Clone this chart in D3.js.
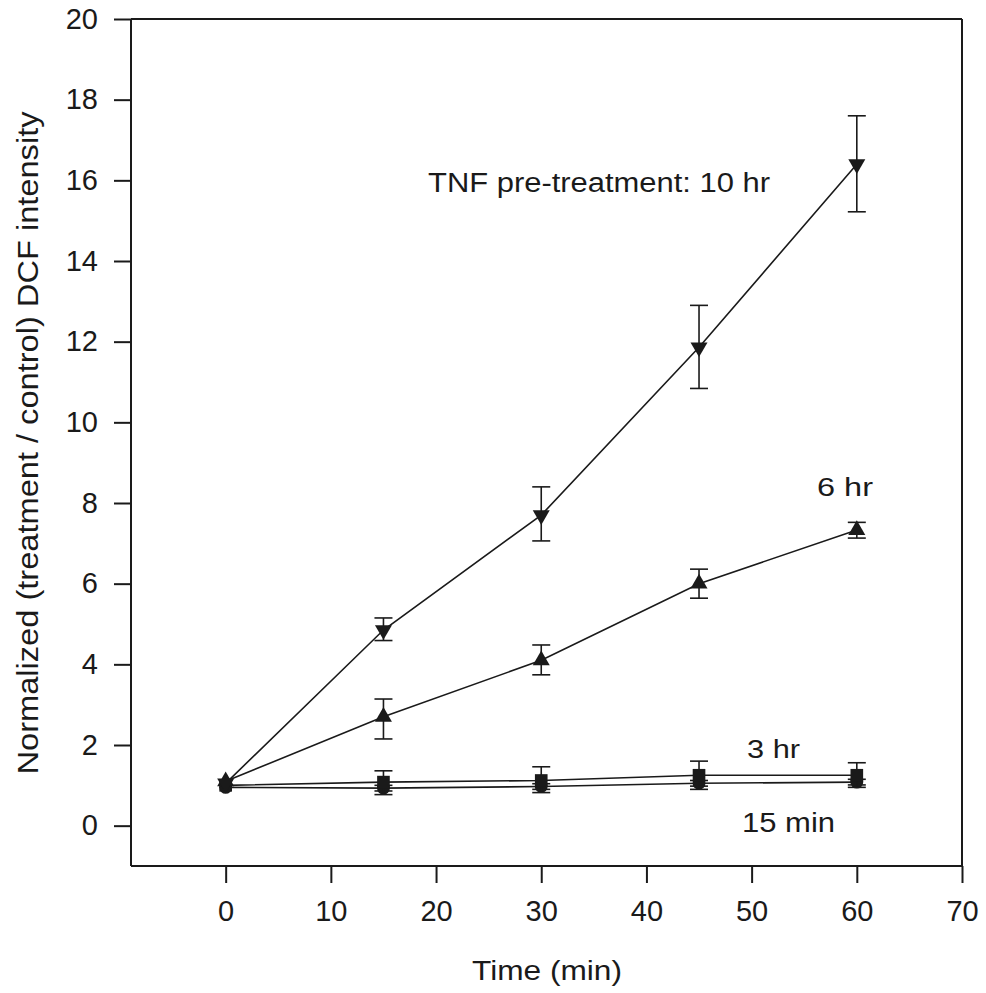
<!DOCTYPE html>
<html>
<head>
<meta charset="utf-8">
<script src="https://cdn.jsdelivr.net/npm/d3@7"></script>
<style>
  html, body { margin: 0; padding: 0; background: #ffffff; }
  svg text { font-family: "Liberation Sans", Arial, sans-serif; fill: #1a1a1a; }
</style>
</head>
<body>
<svg id="chart" width="986" height="993"></svg>
<script>
// ---- data ----
const times = [0, 15, 30, 45, 60];
const xTicks = [0, 10, 20, 30, 40, 50, 60, 70];
const yTicks = [0, 2, 4, 6, 8, 10, 12, 14, 16, 18, 20];

const series10hr = [1.05, 4.85, 7.7, 11.86, 16.4];
const err10hrHi  = [1.1, 5.15, 8.4, 12.9, 17.6];
const err10hrLo  = [1.0, 4.59, 7.06, 10.84, 15.22];

const series6hr = [1.1, 2.7, 4.1, 6.0, 7.33];
const err6hrHi  = [1.15, 3.14, 4.48, 6.36, 7.52];
const err6hrLo  = [1.05, 2.15, 3.74, 5.64, 7.13];

const series3hr = [1.0, 1.08, 1.12, 1.25, 1.25];
const err3hrHi  = [1.05, 1.36, 1.46, 1.6, 1.56];
const err3hrLo  = [0.95, 0.77, 0.82, 0.9, 0.95];

const series15min = [0.95, 0.93, 0.97, 1.05, 1.08];
const err15minHi  = [1.0, 1.0, 1.04, 1.12, 1.15];
const err15minLo  = [0.9, 0.86, 0.9, 0.98, 1.01];

const seriesNames = ["TNF pre-treatment: 10 hr", "6 hr", "3 hr", "15 min"];
const xTitle = "Time (min)";
const yTitle = "Normalized (treatment / control) DCF intensity";

// ---- chart ----
const svg = d3.select("#chart");
const x = d3.scaleLinear().domain([-9, 70]).range([131, 962]);
const y = d3.scaleLinear().domain([-1, 20]).range([866, 19]);
const ink = "#1a1a1a";

// axes
const gx = svg.append("g").attr("transform", `translate(0,${y(-1)})`)
  .call(d3.axisBottom(x).tickValues(xTicks).tickSize(17).tickSizeOuter(0).tickPadding(28));
const gy = svg.append("g").attr("transform", `translate(${x(-9)},0)`)
  .call(d3.axisLeft(y).tickValues(yTicks).tickSize(17).tickSizeOuter(0).tickPadding(16));
[gx, gy].forEach(g => {
  g.select(".domain").attr("stroke", ink).attr("stroke-width", 2);
  g.selectAll(".tick line").attr("stroke", ink).attr("stroke-width", 2);
  g.selectAll(".tick text").attr("font-size", 29).attr("fill", ink)
    .attr("font-family", "Liberation Sans, Arial, sans-serif");
});
gx.select(".domain").attr("d", `M${x(-9)},0H${x(70)}`);
gy.select(".domain").attr("d", `M0,${y(-1)}V${y(20)}`);
gx.selectAll(".tick text").attr("dy", "0.35em").attr("y", 45);
// top and right frame lines
svg.append("line").attr("x1", x(-9)).attr("x2", x(70)).attr("y1", y(20)).attr("y2", y(20))
  .attr("stroke", ink).attr("stroke-width", 2);
svg.append("line").attr("x1", x(70)).attr("x2", x(70)).attr("y1", y(20)).attr("y2", y(-1))
  .attr("stroke", ink).attr("stroke-width", 2);

const line = d3.line().x(d => x(d[0])).y(d => y(d[1]));
const allSeries = [
  { v: series15min, hi: err15minHi, lo: err15minLo, sym: d3.symbolCircle, rot: 0, size: 130 },
  { v: series3hr, hi: err3hrHi, lo: err3hrLo, sym: d3.symbolSquare, rot: 0, size: 160 },
  { v: series6hr, hi: err6hrHi, lo: err6hrLo, sym: d3.symbolTriangle, rot: 0, size: 125 },
  { v: series10hr, hi: err10hrHi, lo: err10hrLo, sym: d3.symbolTriangle, rot: 180, size: 125 }
];

allSeries.forEach(s => {
  const pts = times.map((t, i) => [t, s.v[i]]);
  svg.append("path").attr("d", line(pts)).attr("fill", "none")
    .attr("stroke", ink).attr("stroke-width", 1.6);
  const eg = svg.append("g").attr("stroke", ink).attr("stroke-width", 1.6);
  times.forEach((t, i) => {
    if (t === 0) return;
    const cx = x(t);
    eg.append("line").attr("x1", cx).attr("x2", cx).attr("y1", y(s.hi[i])).attr("y2", y(s.lo[i]));
    eg.append("line").attr("x1", cx - 9).attr("x2", cx + 9).attr("y1", y(s.hi[i])).attr("y2", y(s.hi[i]));
    eg.append("line").attr("x1", cx - 9).attr("x2", cx + 9).attr("y1", y(s.lo[i])).attr("y2", y(s.lo[i]));
  });
  svg.append("g").selectAll("path").data(pts).join("path")
    .attr("d", d3.symbol().type(s.sym).size(s.size))
    .attr("transform", d => `translate(${x(d[0])},${y(d[1])}) rotate(${s.rot})`)
    .attr("fill", ink);
});

// annotations
function label(txt, px, py, fs, len) {
  svg.append("text").attr("x", px).attr("y", py).attr("font-size", fs)
    .attr("textLength", len).attr("lengthAdjust", "spacingAndGlyphs").text(txt);
}
label(seriesNames[0], 428, 192, 27, 342);
label(seriesNames[1], 817, 496, 26, 56);
label(seriesNames[2], 747, 758, 26, 53);
label(seriesNames[3], 742, 832, 27, 93);
label(xTitle, 472, 980, 28, 150);

svg.append("text")
  .attr("transform", `translate(38,${443}) rotate(-90)`)
  .attr("text-anchor", "middle").attr("font-size", 30)
  .attr("textLength", 663).attr("lengthAdjust", "spacingAndGlyphs")
  .text(yTitle);
</script>
</body>
</html>
